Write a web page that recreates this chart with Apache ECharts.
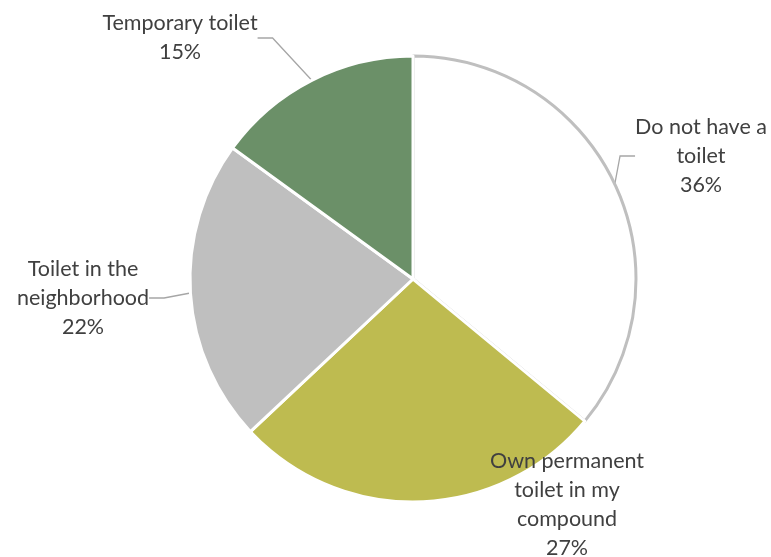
<!DOCTYPE html>
<html>
<head>
<meta charset="utf-8">
<script src="https://cdn.jsdelivr.net/npm/echarts@6/dist/echarts.min.js"></script>
<style>
  html, body { margin: 0; padding: 0; background: #fff; }
  #chart { width: 771px; height: 557px; }
</style>
</head>
<body>
<div id="chart"></div>
<script>
// categories and shares (%)
const categories = [
  "Do not have a\ntoilet",
  "Own permanent\ntoilet in my\ncompound",
  "Toilet in the\nneighborhood",
  "Temporary toilet"
];
const shares = [36, 27, 22, 15];
const colors = ["#ffffff", "#BEBB50", "#BFBFBF", "#6B9068"];

// where each label sits (px), Excel-style
const labelPos = [
  [701, 156],
  [567, 505],
  [83, 298],
  [180, 38]
];
const showLine = [true, false, true, true];

var myChart = echarts.init(document.getElementById("chart"));

var option = {
  animation: false,
  series: [
    {
      type: "pie",
      center: [413, 279],
      radius: 223,
      startAngle: 90,
      clockwise: true,
      label: {
        show: true,
        formatter: "{b}\n{c}%",
        fontFamily: "Lato",
        fontSize: 21.5,
        lineHeight: 29,
        color: "#404040",
        align: "center",
        overflow: "none"
      },
      labelLine: {
        show: true,
        length: 10,
        length2: 15,
        lineStyle: { color: "#A6A6A6", width: 1.3 }
      },
      labelLayout: function (params) {
        var p = labelPos[params.dataIndex];
        return { x: p[0], y: p[1], align: "center", verticalAlign: "middle" };
      },
      data: categories.map(function (name, i) {
        return {
          name: name,
          value: shares[i],
          itemStyle: {
            color: colors[i],
            borderColor: i === 0 ? "#BFBFBF" : "#ffffff",
            borderWidth: 3
          },
          labelLine: { show: showLine[i] }
        };
      })
    }
  ]
};

myChart.setOption(option);
</script>
</body>
</html>
